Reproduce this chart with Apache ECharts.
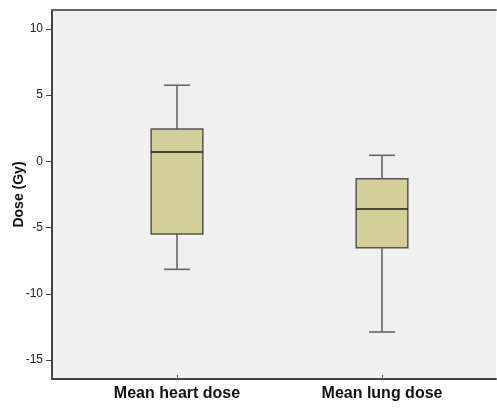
<!DOCTYPE html>
<html>
<head>
<meta charset="utf-8">
<script src="https://cdn.jsdelivr.net/npm/echarts@6/dist/echarts.min.js"></script>
<style>html,body{margin:0;padding:0;background:#fff}#c{width:497px;height:409px}</style>
</head>
<body>
<div id="c"></div>
<script>
// categories and five-number summaries (min, Q1, median, Q3, max) in Gy
var categories = ['Mean heart dose', 'Mean lung dose'];
var whiskerLow = [-8.15, -12.88];
var q1Values = [-5.48, -6.52];
var medianValues = [0.71, -3.6];
var q3Values = [2.45, -1.31];
var whiskerHigh = [5.75, 0.46];
var yTicks = [-15, -10, -5, 0, 5, 10];

var yMin = -16.43, yMax = 11.43;

var data = categories.map(function (c, i) {
  return [i, whiskerLow[i], q1Values[i], medianValues[i], q3Values[i], whiskerHigh[i]];
});

var chart = echarts.init(document.getElementById('c'), null, {renderer: 'canvas'});
var font = 'Liberation Sans, Arial, sans-serif';

function renderItem(params, api) {
  var x = api.value(0);
  var pMin = api.coord([x, api.value(1)]);
  var pQ1 = api.coord([x, api.value(2)]);
  var pMed = api.coord([x, api.value(3)]);
  var pQ3 = api.coord([x, api.value(4)]);
  var pMax = api.coord([x, api.value(5)]);
  var band = api.size([1, 0])[0];
  var bw = band * 0.252;
  var cw = band * 0.127;
  var cx = pMed[0];
  var wStyle = {stroke: '#666666', lineWidth: 1.6};
  return {
    type: 'group',
    children: [
      {type: 'line', shape: {x1: cx, y1: pQ3[1], x2: cx, y2: pMax[1]}, style: wStyle},
      {type: 'line', shape: {x1: cx, y1: pQ1[1], x2: cx, y2: pMin[1]}, style: wStyle},
      {type: 'line', shape: {x1: cx - cw / 2, y1: pMax[1], x2: cx + cw / 2, y2: pMax[1]}, style: wStyle},
      {type: 'line', shape: {x1: cx - cw / 2, y1: pMin[1], x2: cx + cw / 2, y2: pMin[1]}, style: wStyle},
      {type: 'rect', shape: {x: cx - bw / 2, y: pQ3[1], width: bw, height: pQ1[1] - pQ3[1]},
        style: {fill: '#d4cf98', stroke: '#555555', lineWidth: 1.5}},
      {type: 'line', shape: {x1: cx - bw / 2, y1: pMed[1], x2: cx + bw / 2, y2: pMed[1]},
        style: {stroke: '#1a1a1a', lineWidth: 1.6}}
    ]
  };
}

chart.setOption({
  animation: false,
  backgroundColor: '#ffffff',
  grid: [
    {left: 52, right: 1, top: 10, bottom: 30, show: true, backgroundColor: '#f0f0f0', borderWidth: 0,
      containLabel: false, outerBoundsMode: 'none'},
    {left: 74.5, width: 410, top: 10, bottom: 30, containLabel: false, outerBoundsMode: 'none'}
  ],
  xAxis: [
    {type: 'value', gridIndex: 0, min: 0, max: 1, position: 'bottom',
      axisLine: {show: true, onZero: false, lineStyle: {color: '#444444', width: 2}},
      axisTick: {show: false}, axisLabel: {show: false}, splitLine: {show: false}},
    {type: 'value', gridIndex: 0, min: 0, max: 1, position: 'top',
      axisLine: {show: true, onZero: false, lineStyle: {color: '#666666', width: 2}},
      axisTick: {show: false}, axisLabel: {show: false}, splitLine: {show: false}},
    {type: 'category', gridIndex: 1, data: categories, position: 'bottom',
      axisLine: {show: false, onZero: false},
      axisTick: {show: true, alignWithLabel: true, inside: true, length: 4, lineStyle: {color: '#666666', width: 1}},
      axisLabel: {color: '#111111', fontFamily: font, fontWeight: 'bold', fontSize: 16, margin: 7}}
  ],
  yAxis: [
    {type: 'value', gridIndex: 0, min: yMin, max: yMax, position: 'left',
      name: 'Dose (Gy)', nameLocation: 'middle', nameGap: 26, nameRotate: 90, nameMoveOverlap: false,
      nameTextStyle: {color: '#111111', fontFamily: font, fontWeight: 'bold', fontSize: 14},
      axisLine: {show: true, onZero: false, lineStyle: {color: '#444444', width: 2}},
      axisTick: {show: true, length: 6, customValues: yTicks, lineStyle: {color: '#444444', width: 1}},
      axisLabel: {color: '#222222', fontFamily: font, fontSize: 12, margin: 9, customValues: yTicks},
      splitLine: {show: false}},
    {type: 'value', gridIndex: 1, min: yMin, max: yMax, show: false}
  ],
  series: [{
    type: 'custom',
    xAxisIndex: 2,
    yAxisIndex: 1,
    renderItem: renderItem,
    encode: {x: 0, y: [1, 2, 3, 4, 5]},
    data: data
  }]
});
</script>
</body>
</html>
